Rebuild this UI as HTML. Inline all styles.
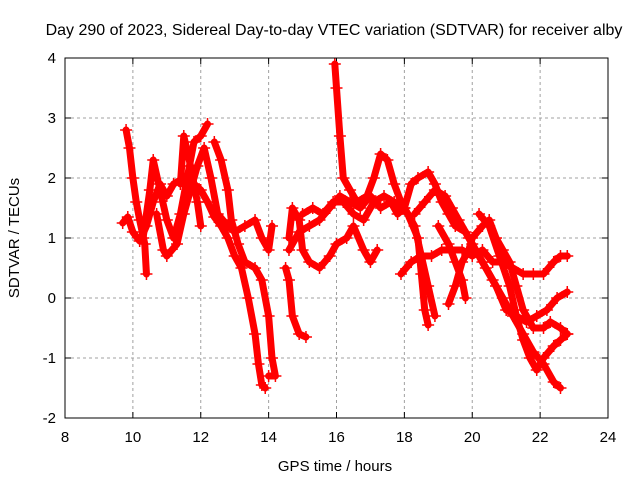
<!DOCTYPE html>
<html><head><meta charset="utf-8"><style>
body{margin:0;background:#fff}
svg{display:block;font-family:"Liberation Sans",sans-serif}
</style></head><body>
<svg id="chart" width="640" height="480">
<text x="334" y="35" font-size="16" text-anchor="middle">Day 290 of 2023, Sidereal Day-to-day VTEC variation (SDTVAR) for receiver alby</text>
<text x="335" y="471" font-size="15" text-anchor="middle">GPS time / hours</text>
<text transform="translate(19,238) rotate(-90)" font-size="15" text-anchor="middle">SDTVAR / TECUs</text>
<g id="grid"></g><g id="ticks"></g><g id="marks"></g>
<rect x="65" y="58" width="543" height="360" fill="none" stroke="#000" stroke-width="1"/>
</svg>
<script>
const xTicks=[8,10,12,14,16,18,20,22,24];
const yTicks=[-2,-1,0,1,2,3,4];
const trackA=[[9.8,2.8],[9.9,2.5],[10.0,2.0],[10.1,1.6],[10.2,1.3],[10.35,0.9],[10.4,0.4]];
const trackB=[[9.7,1.25],[9.85,1.35],[10.0,1.1],[10.2,0.95],[10.4,1.2],[10.6,1.6],[10.8,1.9],[11.0,1.7],[11.2,1.9],[11.5,2.0],[11.8,1.9],[12.0,1.8],[12.2,1.6],[12.4,1.35],[12.6,1.2],[12.8,1.0],[13.0,0.7],[13.2,0.5],[13.4,0.0],[13.6,-0.6],[13.7,-1.1],[13.8,-1.45],[13.9,-1.5]];
const trackC=[[10.3,1.0],[10.5,1.8],[10.6,2.3],[10.8,1.8],[11.0,1.3],[11.2,1.0],[11.4,1.4],[11.6,2.0],[11.8,2.6],[12.0,2.7],[12.2,2.9]];
const trackD=[[10.7,1.4],[10.9,0.8],[11.0,0.7],[11.3,0.9],[11.5,1.4],[11.7,1.8],[11.9,2.2],[12.1,2.5],[12.3,2.0],[12.5,1.4],[12.8,1.2],[13.0,1.1],[13.3,1.2],[13.6,1.3],[13.8,1.0],[14.0,0.8],[14.1,1.2]];
const trackE=[[12.4,2.6],[12.6,2.3],[12.8,1.8],[12.9,1.3],[13.1,0.9],[13.3,0.6],[13.6,0.5],[13.8,0.3],[14.0,-0.3],[14.1,-1.0],[14.2,-1.3],[14.0,-1.3]];
const trackF=[[11.4,1.9],[11.5,2.7],[11.7,2.2],[11.9,1.6],[12.0,1.2]];
const trackG=[[14.6,1.0],[14.7,1.5],[14.9,1.3],[15.0,0.8],[15.2,0.6],[15.5,0.5],[15.8,0.7],[16.0,0.9],[16.3,1.0],[16.5,1.2],[16.8,0.8],[17.0,0.6],[17.2,0.8]];
const trackH=[[14.5,0.5],[14.6,0.3],[14.7,-0.3],[14.9,-0.6],[15.1,-0.65]];
const trackI=[[15.95,3.9],[16.0,3.5],[16.1,2.7],[16.2,2.0],[16.4,1.8],[16.6,1.6],[16.9,1.7],[17.1,2.0],[17.3,2.4],[17.5,2.3],[17.7,1.9],[17.9,1.6],[18.1,1.4],[18.4,1.0],[18.5,0.4],[18.6,-0.2],[18.7,-0.45]];
const trackJ=[[14.6,0.8],[14.9,1.1],[15.2,1.2],[15.5,1.3],[15.8,1.5],[16.1,1.7],[16.4,1.6],[16.7,1.5],[17.0,1.7],[17.3,1.5],[17.6,1.6],[17.8,1.4],[18.0,1.5],[18.2,1.9],[18.4,2.0],[18.7,2.1],[18.9,1.9],[19.1,1.6],[19.3,1.4],[19.5,1.2],[19.8,1.1],[20.0,0.9],[20.3,0.6],[20.6,0.3],[20.9,0.0],[21.2,-0.3],[21.5,-0.6],[21.8,-0.9],[22.1,-1.1],[22.4,-1.4],[22.6,-1.5]];
const trackK=[[15.0,1.4],[15.3,1.5],[15.6,1.4],[15.9,1.6],[16.2,1.6],[16.5,1.4],[16.8,1.3],[17.1,1.6],[17.4,1.7],[17.7,1.6],[18.0,1.5],[18.3,1.2],[18.5,0.7],[18.7,0.2],[18.9,-0.3]];
const trackL=[[17.9,0.4],[18.2,0.6],[18.5,0.7],[18.8,0.7],[19.1,0.8],[19.4,0.8],[19.7,0.8],[20.0,0.7],[20.3,0.8],[20.6,0.6],[20.9,0.6],[21.2,0.5],[21.5,0.4],[21.8,0.4],[22.1,0.4],[22.4,0.6],[22.6,0.7],[22.8,0.7]];
const trackM=[[19.3,-0.1],[19.5,0.2],[19.7,0.6],[19.9,0.8],[20.0,1.0],[20.3,1.2],[20.5,1.3],[20.7,1.0],[20.9,0.8],[21.1,0.6],[21.3,0.2],[21.5,-0.2],[21.8,-0.5],[22.1,-0.5],[22.3,-0.4],[22.6,-0.5],[22.8,-0.6]];
const trackN=[[18.3,1.4],[18.6,1.6],[18.9,1.8],[19.2,1.7],[19.4,1.5],[19.6,1.3],[19.9,1.0],[20.1,0.8],[20.4,0.5],[20.7,0.2],[21.0,-0.2],[21.3,-0.3],[21.6,-0.4],[21.9,-0.3],[22.2,-0.2],[22.5,0.0],[22.8,0.1]];
const trackP=[[20.2,1.4],[20.5,1.2],[20.8,0.7],[21.1,0.2],[21.3,-0.3],[21.5,-0.7],[21.7,-1.0],[21.9,-1.2],[22.1,-1.0],[22.4,-0.8],[22.6,-0.7],[22.8,-0.6]];
const trackQ=[[19.0,1.2],[19.3,0.9],[19.5,0.6],[19.7,0.3],[19.8,0.0]];
const tracks=[trackA,trackB,trackC,trackD,trackE,trackF,trackG,trackH,trackI,trackJ,trackK,trackL,trackM,trackN,trackP,trackQ];

const NS="http://www.w3.org/2000/svg";
const X0=65,X1=608,Y0=418,Y1=58;
function sx(h){return X0+(h-8)/(24-8)*(X1-X0);}
function sy(v){return Y0-(v+2)/(4+2)*(Y0-Y1);}
const grid=document.getElementById('grid'),ticks=document.getElementById('ticks'),marks=document.getElementById('marks');
function mk(tag,attrs,parent){const e=document.createElementNS(NS,tag);for(const k in attrs)e.setAttribute(k,attrs[k]);parent.appendChild(e);return e;}
xTicks.forEach(t=>{
  const x=sx(t);
  if(t>8&&t<24){const g=mk('line',{x1:x,x2:x,y1:Y1,y2:Y0,stroke:'#a0a0a0','stroke-dasharray':'3,3'},grid);
  
  }
  mk('line',{x1:x,x2:x,y1:Y0,y2:Y0-6,stroke:'#000'},ticks);
  mk('line',{x1:x,x2:x,y1:Y1,y2:Y1+6,stroke:'#000'},ticks);
  const l=mk('text',{x:x,y:Y0+24,'font-size':15,'text-anchor':'middle'},ticks);
  l.textContent=t;
  
  
});
yTicks.forEach(t=>{
  const y=sy(t);
  if(t>-2&&t<4){const g=mk('line',{x1:X0,x2:X1,y1:y,y2:y,stroke:'#a0a0a0','stroke-dasharray':'3,3'},grid);
  
  }
  mk('line',{x1:X0,x2:X0+6,y1:y,y2:y,stroke:'#000'},ticks);
  mk('line',{x1:X1,x2:X1-6,y1:y,y2:y,stroke:'#000'},ticks);
  const l=mk('text',{x:X0-9,y:y+5,'font-size':15,'text-anchor':'end'},ticks);
  l.textContent=t;
  
  
});
tracks.forEach((tr,i)=>{
  const g=mk('g',{},marks);
  
  
  mk('polyline',{points:tr.map(p=>sx(p[0])+','+sy(p[1])).join(' '),fill:'none',stroke:'#f00','stroke-width':7,'stroke-linejoin':'round','stroke-linecap':'round'},g);
  tr.forEach(p=>{
    const x=sx(p[0]),y=sy(p[1]);
    const m=mk('path',{d:`M${x-6},${y}H${x+6}M${x},${y-6}V${y+6}`,stroke:'#f00','stroke-width':1.5},g);
    
    
  });
});
</script>
</body></html>
